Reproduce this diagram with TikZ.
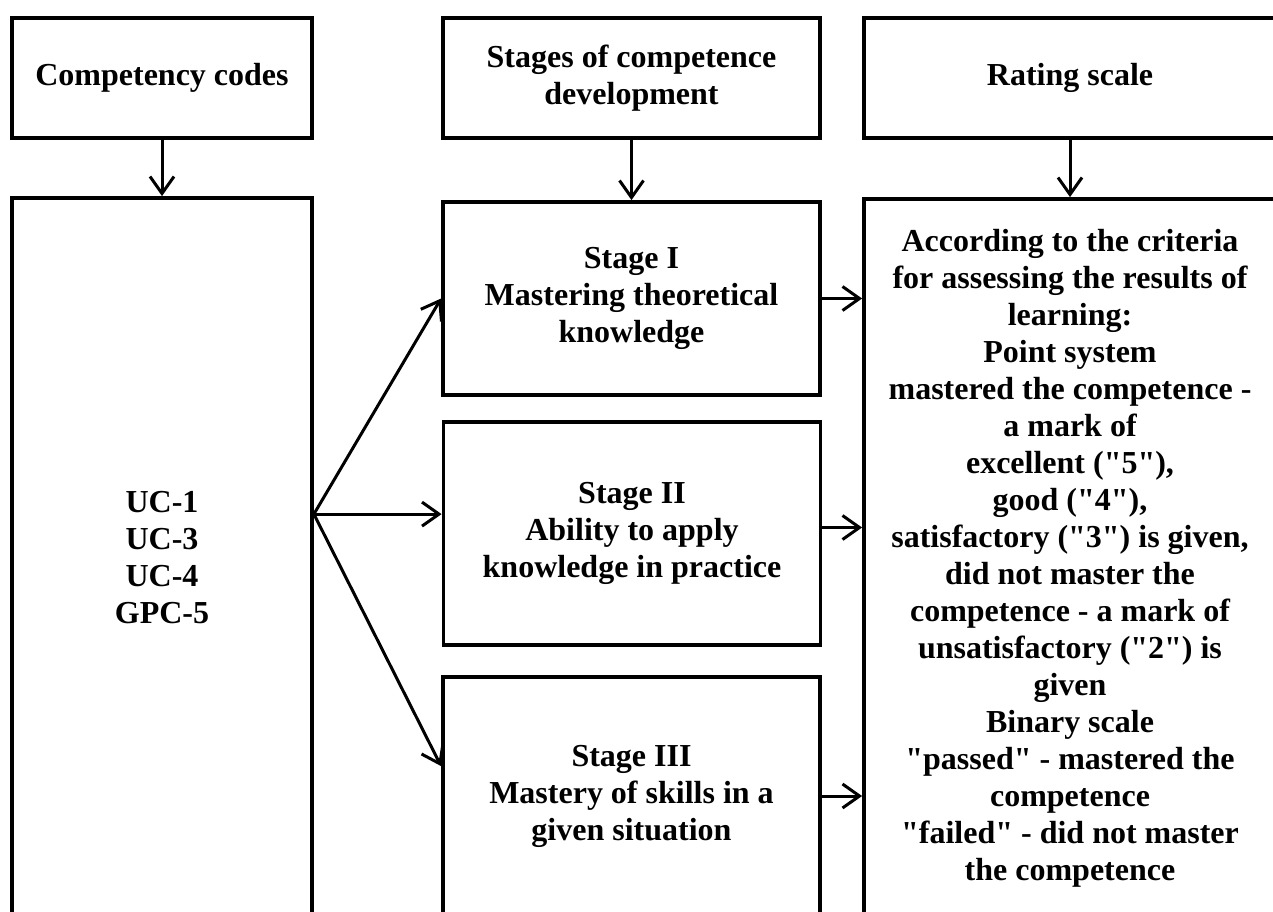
\documentclass[tikz,border=0pt]{standalone}
\usepackage{fontspec}
\setmainfont{Liberation Serif}[Ligatures=TeXOff]
\usetikzlibrary{arrows.meta,calc}
\begin{document}
\begin{tikzpicture}[x=1pt,y=-1pt,
  box/.style={draw, line width=3.8pt, inner sep=0pt, outer sep=1.9pt, align=center,
    font=\fontsize{32}{37}\selectfont\bfseries},
  arr/.style={line width=3pt, -{Straight Barb[length=17pt,width=24pt]}}]
\useasboundingbox (0,0) rectangle (1273,911);
\fill[white] (0,0) rectangle (1273,911);
\clip (0,0) rectangle (1273,911);
% headers
\node[box, minimum width=300pt, minimum height=120pt] (h1) at (162,78) {Competency codes};
\node[box, minimum width=377pt, minimum height=120pt] (h2) at (631.5,78) {Stages of competence\\development};
\node[box, minimum width=412pt, minimum height=120pt] (h3) at (1070,78) {Rating scale};
% main boxes
\node[box, minimum width=300pt, minimum height=720pt] (lb) at (162,558) {UC-1\\UC-3\\UC-4\\GPC-5};
\node[box, minimum width=377pt, minimum height=193pt] (s1) at (631.5,298.5) {Stage I\\Mastering theoretical\\knowledge};
\node[box, minimum width=377pt, minimum height=223pt] (s2) at (632,533.5) {Stage II\\Ability to apply\\knowledge in practice};
\node[box, minimum width=377pt, minimum height=238pt] (s3) at (631.5,796) {Stage III\\Mastery of skills in a\\given situation};
\node[box, minimum width=412pt, minimum height=719pt] (rb) at (1070,558.5) {According to the criteria\\for assessing the results of\\learning:\\Point system\\mastered the competence -\\a mark of\\excellent ("5"),\\good ("4"),\\satisfactory ("3") is given,\\did not master the\\competence - a mark of\\unsatisfactory ("2") is\\given\\Binary scale\\"passed" - mastered the\\competence\\"failed" - did not master\\the competence};
% down arrows
\draw[arr] (h1) -- (lb);
\draw[arr] (h2) -- (s1);
\draw[arr] (h3) -- (rb);
% fan
\coordinate (fan) at ($(lb.north east)+(0,318)$);
\coordinate (s3in) at ($(s3.north west)+(0,91)$);
\draw[arr] (fan) -- (s1.west);
\draw[arr] (fan) -- (fan -| s2.west);
\draw[arr] (fan) -- (s3in);
% right arrows
\coordinate (s2r) at ([yshift=6pt]s2.east);
\draw[arr] (s1.east) -- (s1.east -| rb.west);
\draw[arr] (s2r) -- (s2r -| rb.west);
\draw[arr] (s3.east) -- (s3.east -| rb.west);
\end{tikzpicture}
\end{document}
